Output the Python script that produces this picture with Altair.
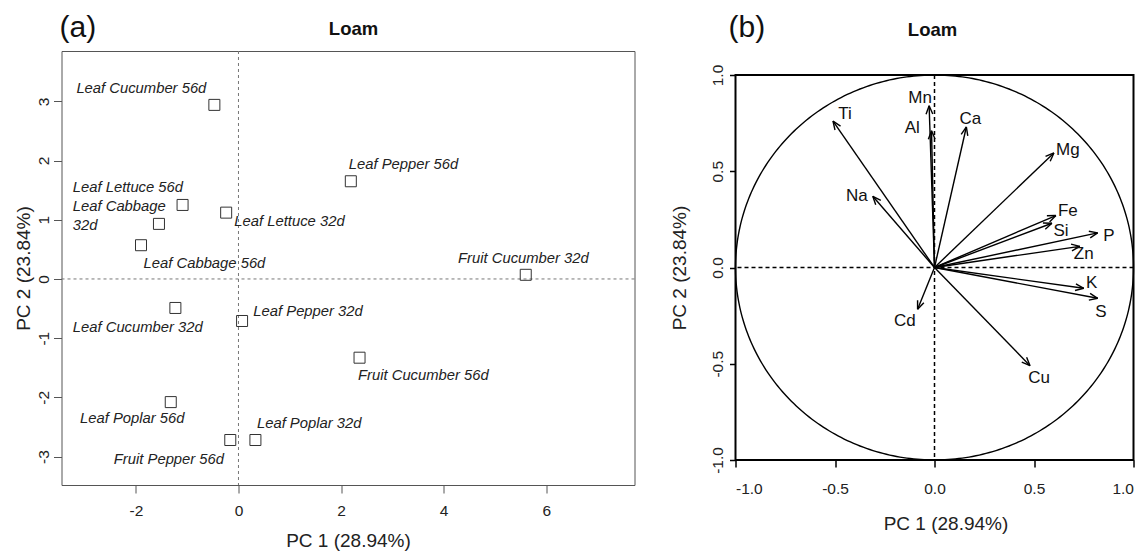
import altair as alt
import pandas as pd
import numpy as np

# ---------------- Panel (a): sample scores ----------------
samples = ["Leaf Cucumber 56d", "Leaf Pepper 56d", "Leaf Lettuce 56d", "Leaf Lettuce 32d",
           "Leaf Cabbage 32d", "Leaf Cabbage 56d", "Fruit Cucumber 32d", "Leaf Cucumber 32d",
           "Leaf Pepper 32d", "Fruit Cucumber 56d", "Leaf Poplar 56d", "Leaf Poplar 32d",
           "Fruit Pepper 56d"]
pc1 = [-0.47, 2.19, -1.09, -0.24, -1.55, -1.90, 5.60, -1.23, 0.07, 2.36, -1.32, 0.33, -0.16]
pc2 = [2.94, 1.65, 1.25, 1.12, 0.93, 0.57, 0.07, -0.49, -0.71, -1.33, -2.08, -2.72, -2.72]

label_text = ["Leaf Cucumber 56d", "Leaf Pepper 56d", "Leaf Lettuce 56d", "Leaf Lettuce 32d",
              "Leaf Cabbage", "32d", "Leaf Cabbage 56d", "Fruit Cucumber 32d",
              "Leaf Cucumber 32d", "Leaf Pepper 32d", "Fruit Cucumber 56d", "Leaf Poplar 56d",
              "Leaf Poplar 32d", "Fruit Pepper 56d"]
label_x = [-3.16, 2.15, -3.23, -0.08, -3.23, -3.23, -1.85, 4.28, -3.23, 0.29, 2.33, -3.09, 0.36, -2.43]
label_y = [3.20, 1.92, 1.53, 0.96, 1.21, 0.90, 0.26, 0.33, -0.82, -0.56, -1.64, -2.36, -2.45, -3.05]

ticks_a_x = [-2, 0, 2, 4, 6]
ticks_a_y = [-3, -2, -1, 0, 1, 2, 3]

# ---------------- Panel (b): variable loadings ----------------
variables = ["Ti", "Mn", "Al", "Ca", "Mg", "Na", "Fe", "Si", "P", "Zn", "K", "S", "Cd", "Cu"]
load1 = [-0.51, -0.027, -0.015, 0.16, 0.60, -0.31, 0.61, 0.59, 0.82, 0.73, 0.75, 0.82, -0.085, 0.48]
load2 = [0.76, 0.84, 0.71, 0.73, 0.595, 0.37, 0.27, 0.23, 0.18, 0.11, -0.108, -0.16, -0.217, -0.51]
var_label_x = [-0.45, -0.072, -0.112, 0.18, 0.67, -0.39, 0.67, 0.636, 0.876, 0.75, 0.79, 0.836, -0.149, 0.526]
var_label_y = [0.80, 0.878, 0.727, 0.77, 0.61, 0.37, 0.296, 0.19, 0.165, 0.07, -0.082, -0.23, -0.28, -0.576]

ticks_b = [-1.0, -0.5, 0.0, 0.5, 1.0]

FONT = "Liberation Sans"
W1, H1 = 573, 434
W2, H2 = 398, 385
TOP2 = 24            # panel (b) frame starts this far below panel (a)'s frame
H2T = H2 + TOP2


def fmt_expr(f):
    return f"datum.value < 0 ? '-' + format(-datum.value, '{f}') : format(datum.value, '{f}')"


# ---------------- Panel (a) chart ----------------
xs1 = alt.Scale(domain=[-3.45, 7.72], nice=False, zero=False)
ys1 = alt.Scale(domain=[-3.48, 3.85], nice=False, zero=False)
xax1 = alt.Axis(values=ticks_a_x, title="PC 1 (28.94%)", grid=False, domain=False,
                tickSize=8, tickColor="#555", tickWidth=1, labelFont=FONT, labelFontSize=15.5,
                labelColor="#222", labelPadding=10, labelExpr=fmt_expr("d"),
                titleFont=FONT, titleFontSize=19, titleFontWeight="normal", titleColor="#222",
                titlePadding=13)
yax1 = alt.Axis(values=ticks_a_y, title="PC 2 (23.84%)", grid=False, domain=False,
                tickSize=8, tickColor="#555", tickWidth=1, labelFont=FONT, labelFontSize=15.5,
                labelColor="#222", labelPadding=2, labelAngle=270, labelAlign="center",
                labelBaseline="bottom", labelExpr=fmt_expr("d"),
                titleFont=FONT, titleFontSize=19, titleFontWeight="normal", titleColor="#222",
                titlePadding=3)


def XA(f):
    return alt.X(f, type="quantitative", scale=xs1, axis=xax1)


def YA(f):
    return alt.Y(f, type="quantitative", scale=ys1, axis=yax1)


pts = pd.DataFrame({"sample": samples, "pc1": pc1, "pc2": pc2})
labs = pd.DataFrame({"text": label_text, "lx": label_x, "ly": label_y})
zero = pd.DataFrame({"z": [0]})

vline_a = alt.Chart(zero).mark_rule(color="#777", strokeDash=[3, 3], strokeWidth=1).encode(x=XA("z"))
hline_a = alt.Chart(zero).mark_rule(color="#777", strokeDash=[3, 3], strokeWidth=1).encode(y=YA("z"))
sq = alt.Chart(pts).mark_point(shape="square", filled=False, size=121, color="#333",
                               strokeWidth=1, opacity=1).encode(x=XA("pc1"), y=YA("pc2"))
txt_a = alt.Chart(labs).mark_text(font=FONT, fontSize=14.8, fontStyle="italic", color="#222",
                                  align="left", baseline="middle").encode(
    x=XA("lx"), y=YA("ly"), text="text:N")
tag_a = alt.Chart(pd.DataFrame({"t": ["(a)"]})).mark_text(
    font=FONT, fontSize=30, align="left", baseline="middle", color="#111").encode(
    x=alt.value(-2), y=alt.value(-23), text="t:N")
ttl_a = alt.Chart(pd.DataFrame({"t": ["Loam"]})).mark_text(
    font=FONT, fontSize=18.5, fontWeight="bold", align="center", baseline="middle", color="#111").encode(
    x=alt.value(292), y=alt.value(-22), text="t:N")

panel_a = alt.layer(vline_a, hline_a, sq, txt_a, tag_a, ttl_a).properties(
    width=W1, height=H1, view=alt.ViewBackground(stroke="#555", strokeWidth=1, fill="white"))

# ---------------- Panel (b) chart ----------------
xs2 = alt.Scale(domain=[-1, 1], nice=False, zero=False)
ys2 = alt.Scale(domain=[-1, 1], nice=False, zero=False, range=[H2T, TOP2])
xax2 = alt.Axis(values=ticks_b, title="PC 1 (28.94%)", grid=False, domain=False,
                tickSize=7, tickColor="#000", tickWidth=1.5, labelFont=FONT, labelFontSize=15.5,
                labelColor="#222", labelPadding=14, labelExpr=fmt_expr(".1f"),
                titleFont=FONT, titleFontSize=19, titleFontWeight="normal", titleColor="#222",
                titlePadding=18, titleX=210)
yax2 = alt.Axis(values=ticks_b, title="PC 2 (23.84%)", grid=False, domain=False,
                tickSize=6, tickColor="#000", tickWidth=1.5, labelFont=FONT, labelFontSize=15.5,
                labelColor="#222", labelPadding=4, labelAngle=270, labelAlign="center",
                labelBaseline="bottom", labelExpr=fmt_expr(".1f"),
                titleFont=FONT, titleFontSize=19, titleFontWeight="normal", titleColor="#222",
                titlePadding=21, titleY=TOP2 + H2 / 2)


def XB(f):
    return alt.X(f, type="quantitative", scale=xs2, axis=xax2)


def YB(f):
    return alt.Y(f, type="quantitative", scale=ys2, axis=yax2)


theta = np.linspace(0, 2 * np.pi, 361)
circle = pd.DataFrame({"i": np.arange(361), "cx": np.cos(theta), "cy": np.sin(theta)})

arrows = pd.DataFrame({"var": variables, "ox": 0.0, "oy": 0.0, "ax": load1, "ay": load2})

# arrow heads (open V), built in pixel space from the loadings
ppx, ppy = W2 / 2.0, H2 / 2.0
head_len, head_ang = 9.0, np.deg2rad(22)
heads = []
for v, x, y in zip(variables, load1, load2):
    px, py = x * ppx, y * ppy
    n = np.hypot(px, py)
    ux, uy = px / n, py / n
    for s in (1, -1):
        c, si = np.cos(s * head_ang), np.sin(s * head_ang)
        rx, ry = ux * c - uy * si, ux * si + uy * c
        heads.append({"var": v, "hx": x, "hy": y,
                      "hx2": (px - head_len * rx) / ppx, "hy2": (py - head_len * ry) / ppy})
heads = pd.DataFrame(heads)
vlabs = pd.DataFrame({"var": variables, "lx": var_label_x, "ly": var_label_y})
frame = pd.DataFrame({"x0": [-1.0], "x1": [1.0], "y0": [-1.0], "y1": [1.0]})

box_b = alt.Chart(frame).mark_rect(filled=False, stroke="#000", strokeWidth=2, fill=None).encode(
    x=XB("x0"), x2="x1:Q", y=YB("y0"), y2="y1:Q")
vline_b = alt.Chart(zero).mark_rule(color="#000", strokeDash=[4, 3], strokeWidth=1.5).encode(
    x=XB("z"), y=alt.value(TOP2), y2=alt.value(H2T))
hline_b = alt.Chart(zero).mark_rule(color="#000", strokeDash=[4, 3], strokeWidth=1.5).encode(y=YB("z"))
circ = alt.Chart(circle).mark_line(color="#000", strokeWidth=1.4).encode(
    x=XB("cx"), y=YB("cy"), order="i:Q")
arr = alt.Chart(arrows).mark_rule(color="#000", strokeWidth=1.4).encode(
    x=XB("ox"), y=YB("oy"), x2="ax:Q", y2="ay:Q")
hd = alt.Chart(heads).mark_rule(color="#000", strokeWidth=1.4).encode(
    x=XB("hx"), y=YB("hy"), x2="hx2:Q", y2="hy2:Q")
txt_b = alt.Chart(vlabs).mark_text(font=FONT, fontSize=17, color="#111",
                                   align="center", baseline="middle").encode(
    x=XB("lx"), y=YB("ly"), text="var:N")
tag_b = alt.Chart(pd.DataFrame({"t": ["(b)"]})).mark_text(
    font=FONT, fontSize=30, align="left", baseline="middle", color="#111").encode(
    x=alt.value(-7), y=alt.value(TOP2 - 47.5), text="t:N")
ttl_b = alt.Chart(pd.DataFrame({"t": ["Loam"]})).mark_text(
    font=FONT, fontSize=18.5, fontWeight="bold", align="center", baseline="middle", color="#111").encode(
    x=alt.value(197), y=alt.value(TOP2 - 45), text="t:N")

panel_b = alt.layer(box_b, vline_b, hline_b, circ, arr, hd, txt_b, tag_b, ttl_b).properties(
    width=W2, height=H2T)

chart = alt.hconcat(panel_a, panel_b, spacing=35).properties(
    padding={"left": 5.5, "top": 4, "right": 0, "bottom": 0},
    background="white",
).configure_view(stroke=None)

chart.save("out.html", embed_options={"renderer": "svg", "actions": False})
